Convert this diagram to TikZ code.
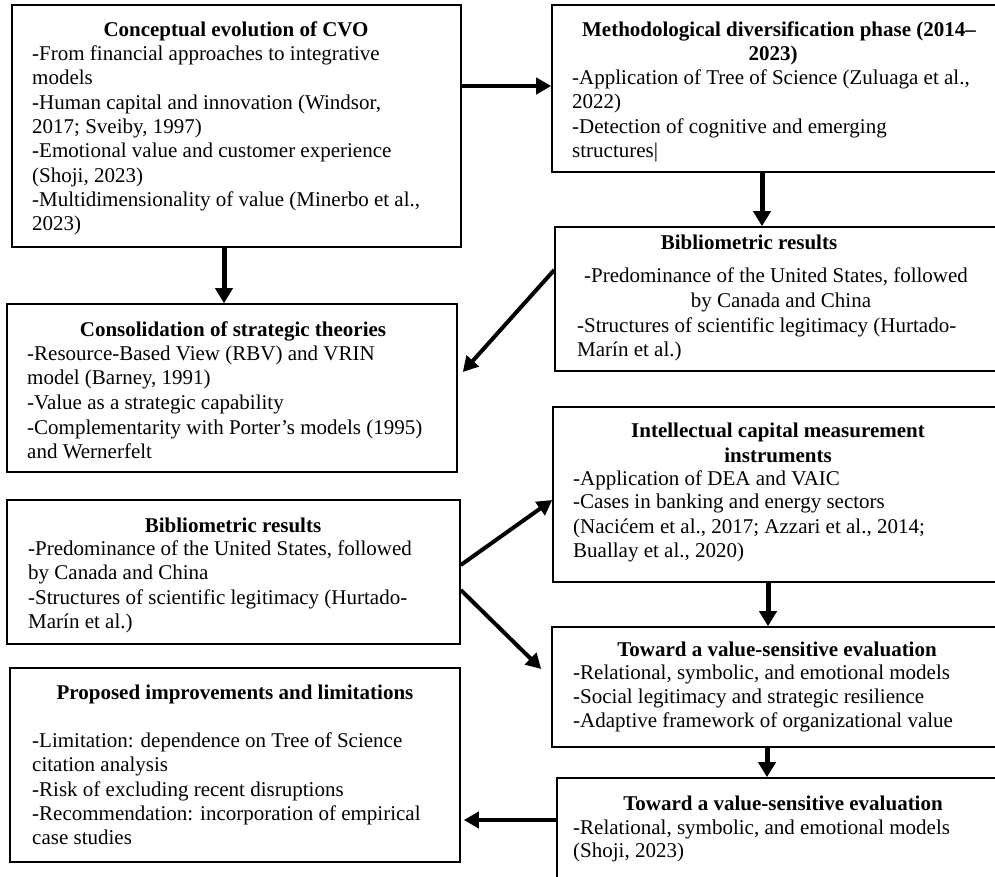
\documentclass[tikz,border=0pt]{standalone}
\usepackage{fontspec}
\setmainfont{Liberation Serif}
\usetikzlibrary{arrows.meta,fit,calc}
\begin{document}
\begin{tikzpicture}[x=1pt,y=-1pt,
  box/.style={draw, line width=1.6pt, inner sep=0pt},
  txt/.style={inner sep=0pt, anchor=base west, font=\fontsize{21}{24}\selectfont},
  ctxt/.style={inner sep=0pt, anchor=base, font=\fontsize{21}{24}\selectfont},
  ttl/.style={inner sep=0pt, anchor=base, font=\fontsize{21}{24}\selectfont\bfseries},
  arr/.style={line width=4pt, -{Triangle[length=15pt,width=16pt]}},
  varr/.style={line width=5pt, -{Triangle[length=15pt,width=17pt]}}]
\useasboundingbox (0,0) rectangle (995,876);
\clip (0,0) rectangle (995,876);
\fill[white] (0,0) rectangle (995,876);

% boxes
\node[box, fit={(12,5) (461,247)}] (A) {};
\node[box, fit={(552,5) (1010,172)}] (B) {};
\node[box, fit={(555,227) (1010,371)}] (C) {};
\node[box, fit={(7,304) (457,472)}] (D) {};
\node[box, fit={(7,500) (460,644)}] (E) {};
\node[box, fit={(553,407) (1010,582)}] (F) {};
\node[box, fit={(552,627) (1010,747)}] (G) {};
\node[box, fit={(557,778) (1010,900)}] (H) {};
\node[box, fit={(10,668) (460,862)}] (I) {};

% A
\node[ttl] (a0) at (236,36) {Conceptual evolution of CVO};
\node[txt] (a1) at (32,60) {-From financial approaches to integrative};
\node[txt] (a2) at (32,84) {models};
\node[txt] (a3) at (32,109) {-Human capital and innovation (Windsor,};
\node[txt] (a4) at (32,133) {2017; Sveiby, 1997)};
\node[txt] (a5) at (32,157) {-Emotional value and customer experience};
\node[txt] (a6) at (32,182) {(Shoji, 2023)};
\node[txt] (a7) at (32,206) {-Multidimensionality of value (Minerbo et al.,};
\node[txt] (a8) at (32,230) {2023)};

% B
\node[ttl] (b0) at (779,36) {Methodological diversification phase (2014–};
\node[ttl] (b0b) at (773,60) {2023)};
\node[txt] (b1) at (572,84) {-Application of Tree of Science (Zuluaga et al.,};
\node[txt] (b2) at (572,108) {2022)};
\node[txt] (b3) at (572,133) {-Detection of cognitive and emerging};
\node[txt] (b4) at (572,157) {structures|};

% C
\node[ttl] (c0) at (749,249) {Bibliometric results};
\node[ctxt] (c1) at (776,282) {-Predominance of the United States, followed};
\node[ctxt] (c2) at (781,307) {by Canada and China};
\node[txt] (c3) at (577,332) {-Structures of scientific legitimacy (Hurtado-};
\node[txt] (c4) at (577,356) {Marín et al.)};

% D
\node[ttl] (d0) at (233,336) {Consolidation of strategic theories};
\node[txt] (d1) at (27,360) {-Resource-Based View (RBV) and VRIN};
\node[txt] (d2) at (27,384) {model (Barney, 1991)};
\node[txt] (d3) at (27,409) {-Value as a strategic capability};
\node[txt] (d4) at (27,434) {-Complementarity with Porter’s models (1995)};
\node[txt] (d5) at (27,458) {and Wernerfelt};

% E
\node[ttl] (e0) at (233,532) {Bibliometric results};
\node[txt] (e1) at (28,555) {-Predominance of the United States, followed};
\node[txt] (e2) at (28,579) {by Canada and China};
\node[txt] (e3) at (28,604) {-Structures of scientific legitimacy (Hurtado-};
\node[txt] (e4) at (28,628) {Marín et al.)};

% F
\node[ttl] (f0) at (778,437) {Intellectual capital measurement};
\node[ttl] (f0b) at (778,462) {instruments};
\node[txt] (f1) at (573,485) {-Application of DEA and VAIC};
\node[txt] (f2) at (573,508) {-Cases in banking and energy sectors};
\node[txt] (f3) at (573,533) {(Nacićem et al., 2017; Azzari et al., 2014;};
\node[txt] (f4) at (573,557) {Buallay et al., 2020)};

% G
\node[ttl] (g0) at (777,656) {Toward a value-sensitive evaluation};
\node[txt] (g1) at (573,679) {-Relational, symbolic, and emotional models};
\node[txt] (g2) at (573,703) {-Social legitimacy and strategic resilience};
\node[txt] (g3) at (573,727) {-Adaptive framework of organizational value};

% H
\node[ttl] (h0) at (783,810) {Toward a value-sensitive evaluation};
\node[txt] (h1) at (573,834) {-Relational, symbolic, and emotional models};
\node[txt] (h2) at (573,857) {(Shoji, 2023)};

% I
\node[ttl] (i0) at (235,699) {Proposed improvements and limitations};
\node[txt] (i1) at (32,747) {-Limitation: dependence on Tree of Science};
\node[txt] (i2) at (32,771) {citation analysis};
\node[txt] (i3) at (32,796) {-Risk of excluding recent disruptions};
\node[txt] (i4) at (32,820) {-Recommendation: incorporation of empirical};
\node[txt] (i5) at (32,844) {case studies};

% connectors
\draw[arr] (A.east |- 0,86) -- (B.west |- 0,86);
\draw[varr] (A.south -| 224,0) -- (D.north -| 224,0);
\draw[varr] (B.south -| 762,0) -- (C.north -| 762,0);
\draw[arr] (C.west |- 0,270) -- ($(D.east |- 0,372)+(5,0)$);
\draw[arr] (E.east |- 0,565) -- (F.west |- 0,500);
\draw[arr] (E.east |- 0,590) -- ($(G.west |- 0,669)+(-10,0)$);
\draw[varr] (F.south -| 768,0) -- (G.north -| 768,0);
\draw[varr] (G.south -| 767,0) -- (H.north -| 767,0);
\draw[arr] (H.west |- 0,820) -- ($(I.east |- 0,820)+(3,0)$);
\end{tikzpicture}
\end{document}
